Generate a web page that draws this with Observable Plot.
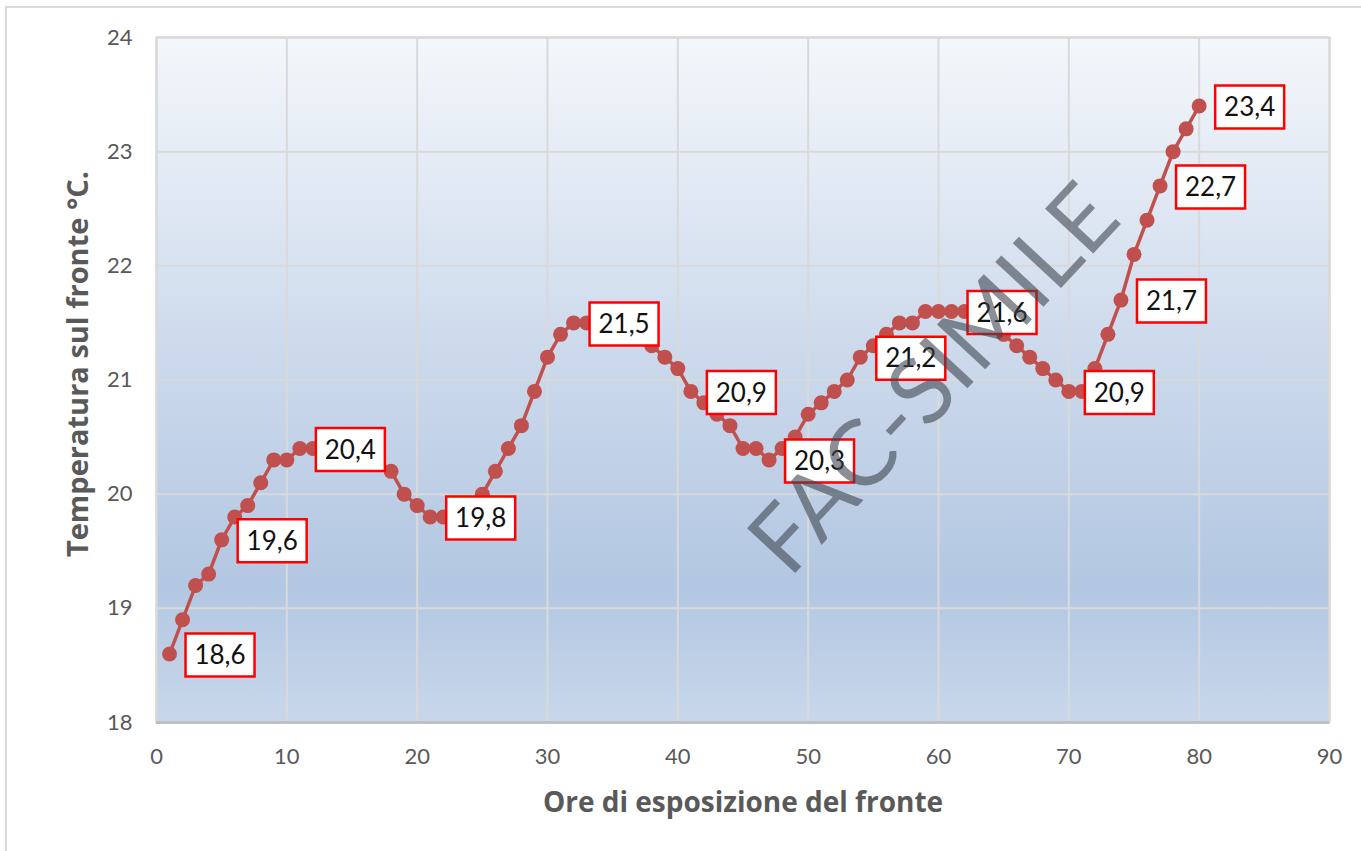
<!DOCTYPE html>
<html>
<head>
<meta charset="utf-8">
<script src="https://cdn.jsdelivr.net/npm/d3@7"></script>
<script src="https://cdn.jsdelivr.net/npm/@observablehq/plot@0.6"></script>
<style>
  html, body { margin: 0; padding: 0; background: #fff; }
  #wrap { position: relative; width: 1361px; height: 851px; overflow: hidden; }
  #edge { position: absolute; left: 5px; top: 6px; right: -10px; bottom: -10px;
          border-top: 2px solid #D9D9D9; border-left: 2px solid #D9D9D9; pointer-events: none; }
</style>
</head>
<body>
<div id="wrap"><div id="edge"></div></div>
<script>
// Data
const hours = [1,2,3,4,5,6,7,8,9,10,11,12,13,14,15,16,17,18,19,20,
  21,22,23,24,25,26,27,28,29,30,31,32,33,34,35,36,37,38,39,40,
  41,42,43,44,45,46,47,48,49,50,51,52,53,54,55,56,57,58,59,60,
  61,62,63,64,65,66,67,68,69,70,71,72,73,74,75,76,77,78,79,80];
const temps = [18.6,18.9,19.2,19.3,19.6,19.8,19.9,20.1,20.3,20.3,
  20.4,20.4,20.4,20.4,20.4,20.3,20.3,20.2,20.0,19.9,
  19.8,19.8,19.8,19.9,20.0,20.2,20.4,20.6,20.9,21.2,
  21.4,21.5,21.5,21.5,21.5,21.4,21.4,21.3,21.2,21.1,
  20.9,20.8,20.7,20.6,20.4,20.4,20.3,20.4,20.5,20.7,
  20.8,20.9,21.0,21.2,21.3,21.4,21.5,21.5,21.6,21.6,
  21.6,21.6,21.6,21.5,21.4,21.3,21.2,21.1,21.0,20.9,
  20.9,21.1,21.4,21.7,22.1,22.4,22.7,23.0,23.2,23.4];
const labelHours = [1,5,11,21,32,41,47,54,61,70,74,77,80];
const xTicks = [0,10,20,30,40,50,60,70,80,90];
const yTicks = [18,19,20,21,22,23,24];
const xTitle = "Ore di esposizione del fronte";
const yTitle = "Temperatura sul fronte °C.";
const watermark = "FAC-SIMILE";

const data = hours.map((h, i) => ({hour: h, temp: temps[i]}));
const labelData = data.filter(d => labelHours.includes(d.hour));
const fmtComma = v => d3.format(".1f")(v).replace(".", ",");

const FONT = "Lato, 'Open Sans', sans-serif";
const TITLE_FONT = "'Open Sans', Lato, sans-serif";
const GREY = "#595959";
const RED = "#C0504D";

// background gradient definition
const defsMark = () => {
  const svgNS = "http://www.w3.org/2000/svg";
  const defs = document.createElementNS(svgNS, "defs");
  defs.innerHTML = `<linearGradient id="bgGrad" x1="0" y1="0" x2="0" y2="1">
      <stop offset="0" stop-color="#F4F7FB"/>
      <stop offset="0.45" stop-color="#CDDAEC"/>
      <stop offset="0.8" stop-color="#B3C7E2"/>
      <stop offset="1" stop-color="#C8D7EB"/>
    </linearGradient>`;
  return defs;
};

// fixed-size label box symbol
const boxSymbol = {
  draw(ctx) {
    ctx.moveTo(-34.5, -21.5);
    ctx.lineTo(34.5, -21.5);
    ctx.lineTo(34.5, 21.5);
    ctx.lineTo(-34.5, 21.5);
    ctx.closePath();
  }
};

const chart = Plot.plot({
  width: 1361,
  height: 851,
  marginLeft: 156,
  marginRight: 32,
  marginTop: 37,
  marginBottom: 129,
  style: {fontFamily: FONT, background: "transparent", overflow: "visible"},
  x: {domain: [0, 90], ticks: xTicks},
  y: {domain: [18, 24], ticks: yTicks},
  marks: [
    defsMark,
    Plot.frame({fill: "url(#bgGrad)", stroke: "#D0D0D0", strokeWidth: 2}),
    Plot.gridX(xTicks, {stroke: "#D9D9D9", strokeOpacity: 1, strokeWidth: 2}),
    Plot.gridY(yTicks, {stroke: "#D9D9D9", strokeOpacity: 1, strokeWidth: 2}),
    Plot.ruleY([18], {stroke: "#BFBFBF", strokeWidth: 3}),
    Plot.axisX(xTicks, {tickSize: 0, tickPadding: 26, fontSize: 22, fill: GREY, label: null, tickFormat: d => String(d)}),
    Plot.axisY(yTicks, {tickSize: 0, tickPadding: 24, fontSize: 22, fill: GREY, label: null, tickFormat: d => String(d)}),
    Plot.line(data, {x: "hour", y: "temp", stroke: RED, strokeWidth: 3.5}),
    Plot.dot(data, {x: "hour", y: "temp", r: 7.5, fill: RED, stroke: "none"}),
    Plot.dot(labelData, {x: "hour", y: "temp", symbol: boxSymbol, r: 10, fill: "white", stroke: "#FF0000", strokeWidth: 2.5, dx: 50.5, dy: 1}),
    Plot.text(labelData, {x: "hour", y: "temp", text: d => fmtComma(d.temp), dx: 50.5, dy: 2, fontSize: 26, fill: "#111", textAnchor: "middle"}),
    Plot.text([xTitle], {frameAnchor: "bottom", dy: 81, lineAnchor: "middle", textAnchor: "middle", fontSize: 28, fontWeight: "bold", fill: GREY, fontFamily: TITLE_FONT}),
    Plot.text([yTitle], {frameAnchor: "left", dx: -78, dy: -16, rotate: -90, lineAnchor: "middle", textAnchor: "middle", fontSize: 29, fontWeight: "bold", fill: GREY, fontFamily: TITLE_FONT}),
    Plot.text([watermark], {frameAnchor: "middle", dx: 192, dy: 0, rotate: -47, fontSize: 92, fontWeight: 400, fill: "#3F4650", fillOpacity: 0.6})
  ]
});
document.getElementById("wrap").prepend(chart);
</script>
</body>
</html>
